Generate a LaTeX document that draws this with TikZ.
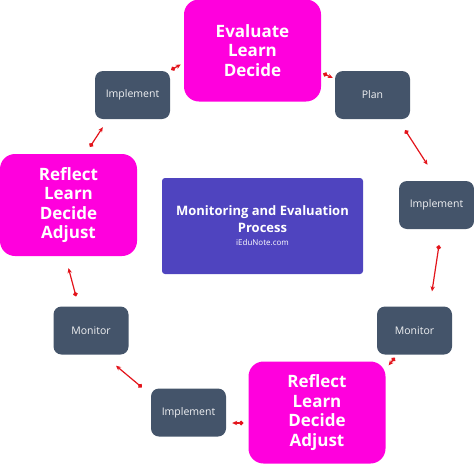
\documentclass[tikz,border=0pt]{standalone}
\usepackage{fontspec}
\setmainfont{Open Sans}
\usetikzlibrary{calc}
\usetikzlibrary{arrows.meta}
\definecolor{magbox}{HTML}{FF00DD}
\definecolor{slatebox}{HTML}{44546A}
\definecolor{indigobox}{HTML}{4F44BF}
\definecolor{flowred}{HTML}{E3141B}
\begin{document}
\begin{tikzpicture}[x=1pt,y=-1pt,
    bigbox/.style={fill=magbox,rounded corners=15pt,minimum width=137pt,minimum height=102pt,
        text=white,align=center,font=\fontsize{17}{19.5}\selectfont\bfseries,inner sep=0pt},
    smallbox/.style={fill=slatebox,rounded corners=8pt,minimum width=75pt,minimum height=48pt,
        text=white!92!slatebox,font=\fontsize{10.5}{12}\selectfont,inner sep=0pt},
    flow/.style={draw=flowred,line width=1.2pt,{Circle[length=4.5pt]}-{Stealth[length=5pt,width=4.5pt]}}]
                \useasboundingbox (0,0) rectangle (474,464);

                % centre
                \node[fill=indigobox,rounded corners=3pt,minimum width=201pt,minimum height=96pt,text=white,align=center,inner sep=0pt,
                    font=\fontsize{13}{17}\selectfont\bfseries]
                    (centre) at (262.5,226) {Monitoring and Evaluation\\
                    Process\\[-4pt]{\fontsize{8}{10}\selectfont\mdseries iEduNote.com}};

                % grandes boites
                \node[bigbox] (eval) at (252.5,50.5) {Evaluate\\Learn\\Decide};
                \node[bigbox] (reflL) at (68.5,205) {Reflect\\Learn\\Decide\\Adjust};
                \node[bigbox] (reflB) at (317,412.5) {Reflect\\Learn\\Decide\\Adjust};

                % petites boites
                \node[smallbox] (implTL) at (132.5,95) {Implement};
                \node[smallbox] (plan) at (372.5,95) {Plan};
                \node[smallbox] (implR) at (436.5,205) {Implement};
                \node[smallbox] (monR) at (414.5,330.5) {Monitor};
                \node[smallbox] (implB) at (188.5,412.5) {Implement};
                \node[smallbox] (monL) at (91,330.5) {Monitor};

                % fleches
                \draw[flow] ($(implTL.north east)+(1,-1)$) -- ($(eval.west)+(-3,14)$);
                \draw[flow] ($(eval.east)+(2,23)$) -- ($(plan.west)+(-2,-17)$);
                \draw[flow] ($(plan.south east)+(-5,11)$) -- ($(implR.north)+(-9,-16)$);
                \draw[flow] ($(implR.south)+(2.5,16)$) -- ($(monR.north)+(17.5,-15)$);
                \draw[flow] ($(monR.south west)+(18,3)$) -- ($(reflB.north east)+(3,4)$);
                \draw[flow] ($(reflB.west)+(-5,10.5)$) -- ($(implB.east)+(6,10.5)$);
                \draw[flow] ($(implB.north west)+(-9,-1)$) -- ($(monL.south)+(25,11)$);
                \draw[flow] ($(monL.north)+(-15,-10)$) -- ($(reflL.south)+(0,12)$);
                \draw[flow] ($(reflL.north)+(21.5,-7)$) -- ($(implTL.south west)+(8,8)$);
            \end{tikzpicture}
\end{document}
